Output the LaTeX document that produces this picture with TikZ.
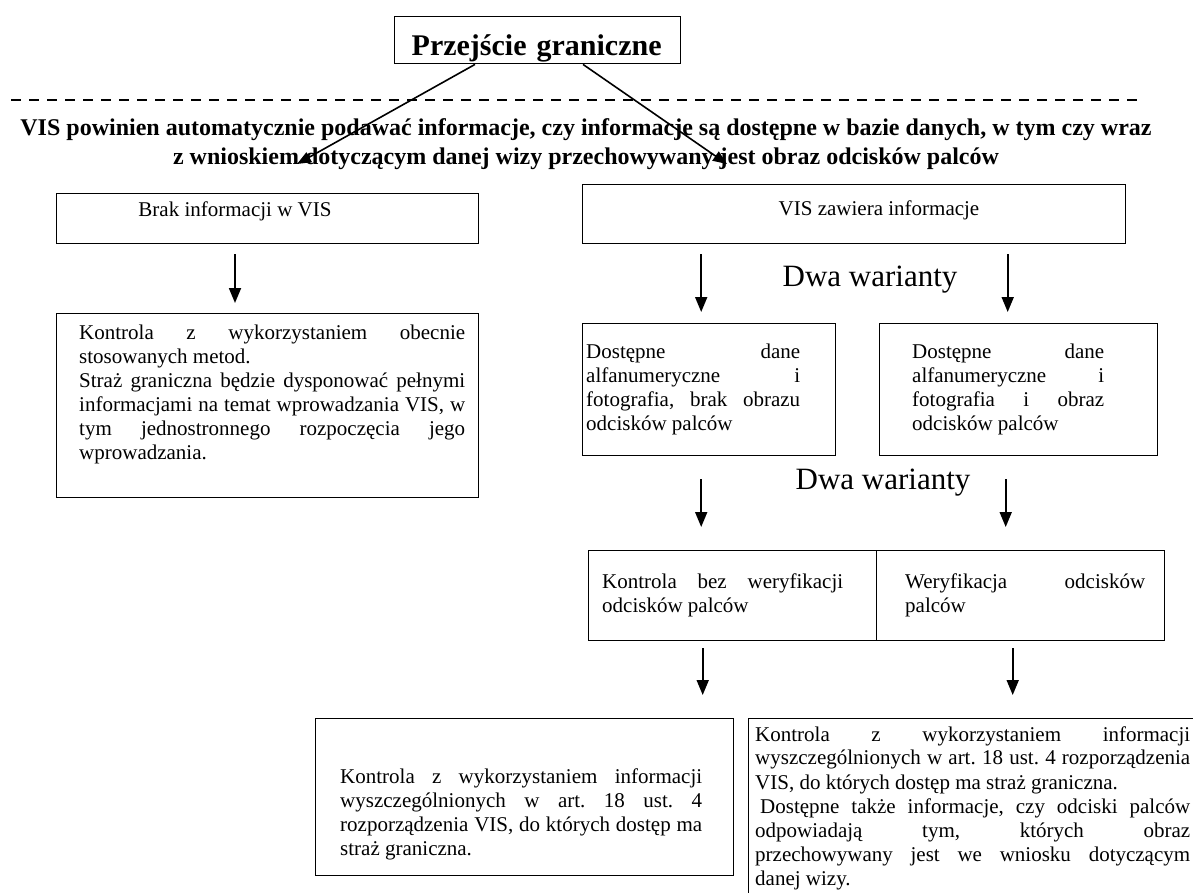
\documentclass[tikz,border=0pt]{standalone}
\usepackage{fontspec}
\setmainfont{Liberation Serif}
\usetikzlibrary{arrows.meta, positioning}
\setlength{\parindent}{0pt}
\hyphenpenalty=10000
\tolerance=9999
\frenchspacing

\tikzset{
  box/.style={rectangle, draw, line width=1.4pt, inner sep=0pt, anchor=north west},
  body/.style={inner sep=0pt, anchor=north west, align=justify, font=\fontsize{21}{24}\selectfont},
  label/.style={inner sep=0pt, anchor=base, font=\fontsize{21}{24}\selectfont},
  variant/.style={inner sep=0pt, font=\fontsize{31}{36}\selectfont},
  arrow/.style={-{Triangle[width=12pt, length=15pt]}, line width=1.8pt},
  diag/.style={-{Triangle[width=11pt, length=14pt]}, line width=1.6pt}
}

\begin{document}
\begin{tikzpicture}[x=1pt, y=-1pt]
\useasboundingbox (0,0) rectangle (1193,892);
\clip (0,0) rectangle (1193,892);

% Top box
\node[box, minimum width=286pt, minimum height=47pt, text width=252pt, inner xsep=17pt, align=left,
  text height=31pt, text depth=0pt,
  font=\fontsize{30}{34}\selectfont\bfseries] (przejscie) at (394,16) {Przejście graniczne};

% Dashed separator
\draw[line width=2.4pt, dash pattern=on 10pt off 8pt] (11,100) -- (1143,100);

% Question
\node[inner sep=0pt, anchor=north, align=center, font=\fontsize{24}{29}\selectfont\bfseries] (pytanie) at (586,118)
  {VIS powinien automatycznie podawać informacje, czy informacje są dostępne w bazie danych, w tym czy wraz\\
   z wnioskiem dotyczącym danej wizy przechowywany jest obraz odcisków palców};

\coordinate (tipL) at (297,164);
\coordinate (tipR) at (727,164);
\draw[diag] ([xshift=81pt]przejscie.south west) -- (tipL);
\draw[diag] ([xshift=189pt]przejscie.south west) -- (tipR);

% Left branch
\node[box, minimum width=422pt, minimum height=50pt] (brak) at (56,193) {};
\node[label] (brakT) at (235,216) {Brak informacji w VIS};
\node[box, minimum width=422pt, minimum height=184pt] (kon1) at (56,313) {};
\node[body, text width=386pt] (kon1T) at (79,325) {Kontrola z wykorzystaniem obecnie\linebreak
  stosowanych metod.\par
  Straż graniczna będzie dysponować pełnymi\linebreak
  informacjami na temat wprowadzania VIS, w\linebreak
  tym jednostronnego rozpoczęcia jego\linebreak
  wprowadzania.};
\draw[arrow, shorten <=10pt, shorten >=10pt] (brak.south -| brakT) -- (kon1.north -| brakT);

% Right branch
\node[box, minimum width=543pt, minimum height=59pt] (vis) at (582,184) {};
\node[label] (visT) at (879,215) {VIS zawiera informacje};
\node[variant] (dwa1) at (870,280) {Dwa warianty};
\node[box, minimum width=253pt, minimum height=132pt] (dost1) at (582,323) {};
\node[box, minimum width=278pt, minimum height=132pt] (dost2) at (879,323) {};
\node[body, text width=214pt] (dost1T) at (586,344) {Dostępne dane\linebreak
  alfanumeryczne i\linebreak
  fotografia, brak obrazu\linebreak
  odcisków palców};
\node[body, text width=192pt] (dost2T) at (912,344) {Dostępne dane\linebreak
  alfanumeryczne i\linebreak
  fotografia i obraz\linebreak
  odcisków palców};
\draw[arrow, shorten <=10pt, shorten >=11pt] ([xshift=-8pt]dost1.north |- vis.south) -- ([xshift=-8pt]dost1.north);
\draw[arrow, shorten <=10pt, shorten >=11pt] ([xshift=-11pt]dost2.north |- vis.south) -- ([xshift=-11pt]dost2.north);

\node[variant] (dwa2) at (883,483) {Dwa warianty};
\node[box, minimum width=288pt, minimum height=90pt] (bez) at (588,550) {};
\node[box, minimum width=288pt, minimum height=90pt] (wer) at (876,550) {};
\node[body, text width=241pt] (bezT) at (602,574) {Kontrola bez weryfikacji\linebreak odcisków palców};
\node[body, text width=240pt] (werT) at (905,574) {Weryfikacja odcisków\linebreak palców};
\draw[arrow, shorten <=23pt, shorten >=23pt] ([xshift=-8pt]dost1.south) -- ([xshift=-8pt]dost1.south |- bez.north);
\draw[arrow, shorten <=23pt, shorten >=23pt] ([xshift=-13pt]dost2.south) -- ([xshift=-13pt]dost2.south |- wer.north);

% Outcomes
\node[box, minimum width=418pt, minimum height=157pt] (wynik1) at (315,718) {};
\node[box, minimum width=480pt, minimum height=200pt] (wynik2) at (748,718) {};
\node[body, text width=362pt] (wynik1T) at (340,768) {Kontrola z wykorzystaniem informacji\linebreak
  wyszczególnionych w art. 18 ust. 4\linebreak
  rozporządzenia VIS, do których dostęp ma\linebreak
  straż graniczna.};
\node[body, text width=435pt] (wynik2T) at (755,726) {Kontrola z wykorzystaniem informacji\linebreak
  wyszczególnionych w art. 18 ust. 4 rozporządzenia\linebreak
  VIS, do których dostęp ma straż graniczna.\par
  \hspace*{5pt}Dostępne także informacje, czy odciski palców\linebreak
  odpowiadają tym, których obraz\linebreak
  przechowywany jest we wniosku dotyczącym\linebreak
  danej wizy.};
\draw[arrow, shorten <=7pt, shorten >=23pt] ([xshift=-30pt]bez.south) -- ([xshift=-30pt]bez.south |- wynik1.north);
\draw[arrow, shorten <=7pt, shorten >=23pt] ([xshift=-8pt]wer.south) -- ([xshift=-8pt]wer.south |- wynik2.north);

\end{tikzpicture}
\end{document}
